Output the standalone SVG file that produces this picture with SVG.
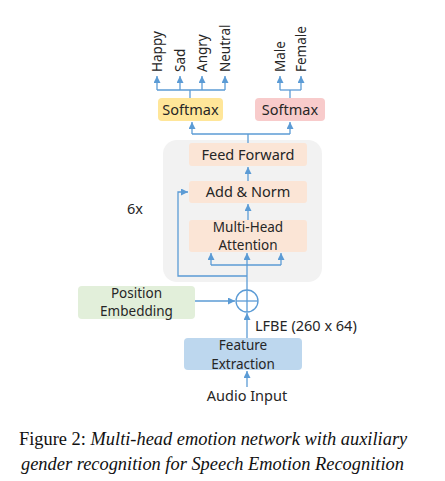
<svg xmlns="http://www.w3.org/2000/svg" width="445" height="481" viewBox="0 0 445 481">
<defs>
<marker id="ah" markerUnits="userSpaceOnUse" markerWidth="7" markerHeight="7" viewBox="0 0 10 10" refX="10" refY="5" orient="auto">
<path d="M0,0 L10,5 L0,10 z" fill="#5b9bd5"/>
</marker>
</defs>
<style>
.t{font-family:"Noto Sans","Open Sans","DejaVu Sans",sans-serif;font-size:14.5px;fill:#262626;text-anchor:middle}
.t2{font-family:"Noto Sans","Open Sans","DejaVu Sans",sans-serif;font-size:13.5px;fill:#262626;text-anchor:middle}
.r{font-family:"Noto Sans","Open Sans","DejaVu Sans",sans-serif;font-size:13.5px;fill:#262626;text-anchor:start}
.ln{fill:none;stroke:#5b9bd5;stroke-width:1.3}
.ar{fill:none;stroke:#5b9bd5;stroke-width:1.3;marker-end:url(#ah)}
.pe{fill:#fbe5d6}
.cap{font-family:"Liberation Serif","Times New Roman",serif;font-size:18.4px;fill:#111}
</style>
<rect width="445" height="481" fill="#ffffff"/>
<g id="encoder-block">
<rect x="163" y="140" width="159" height="142" rx="14" fill="#f2f2f2"/>
<text class="t" x="135" y="214">6x</text>
</g>
<g id="feed-forward">
<rect class="pe" x="189" y="143" width="118" height="23" rx="3"/>
<text class="t" x="248" y="160">Feed Forward</text>
</g>
<g id="add-norm">
<rect class="pe" x="189" y="181" width="118" height="22" rx="3"/>
<text class="t" x="248" y="197">Add &amp; Norm</text>
</g>
<g id="multi-head-attention">
<rect class="pe" x="189" y="220" width="118" height="32" rx="3"/>
<text class="t2" x="248" y="231.5">Multi-Head</text>
<text class="t2" x="248" y="250">Attention</text>
</g>
<g id="softmax-emotion">
<rect x="158" y="98" width="65" height="23" rx="4" fill="#ffe699"/>
<text class="t" x="190.5" y="114.5">Softmax</text>
</g>
<g id="softmax-gender">
<rect x="255" y="98" width="70" height="23" rx="4" fill="#f8cbcb"/>
<text class="t" x="290" y="114.5">Softmax</text>
</g>
<g id="position-embedding">
<rect x="78" y="286" width="117" height="33" rx="4" fill="#e2efda"/>
<text class="t2" x="136.5" y="297.5">Position</text>
<text class="t2" x="136.5" y="316">Embedding</text>
</g>
<g id="add-op">
<circle cx="247" cy="301" r="11" fill="none" stroke="#5b9bd5" stroke-width="1.3"/>
<line class="ln" x1="236" y1="301" x2="258" y2="301"/>
<line class="ln" x1="247" y1="290" x2="247" y2="312"/>
</g>
<g id="feature-extraction">
<rect x="184" y="338" width="118" height="32" rx="4" fill="#bdd7ee"/>
<text class="t2" x="243" y="350">Feature</text>
<text class="t2" x="243" y="368.5">Extraction</text>
</g>
<g id="labels">
<text class="t" x="247" y="401">Audio Input</text>
<text class="t" x="255" y="331" style="text-anchor:start">LFBE (260 x 64)</text>
<text class="r" transform="translate(162,72) rotate(-90)">Happy</text>
<text class="r" transform="translate(185,72) rotate(-90)">Sad</text>
<text class="r" transform="translate(207,72) rotate(-90)">Angry</text>
<text class="r" transform="translate(230,72) rotate(-90)">Neutral</text>
<text class="r" transform="translate(285,72) rotate(-90)">Male</text>
<text class="r" transform="translate(306,72) rotate(-90)">Female</text>
</g>
<g id="connectors">
<line class="ar" x1="247" y1="387" x2="247" y2="371"/>
<line class="ar" x1="247" y1="338" x2="247" y2="313"/>
<line class="ar" x1="195" y1="301" x2="235" y2="301"/>
<line class="ln" x1="247" y1="290" x2="247" y2="265"/>
<line class="ar" x1="247" y1="265" x2="247" y2="253"/>
<polyline class="ln" points="211,265 281,265"/>
<line class="ar" x1="211" y1="265" x2="211" y2="253"/>
<line class="ar" x1="281" y1="265" x2="281" y2="253"/>
<polyline class="ar" points="247,276 178,276 178,192 188,192"/>
<line class="ar" x1="248" y1="220" x2="248" y2="204"/>
<line class="ar" x1="248" y1="181" x2="248" y2="167"/>
<line class="ln" x1="248" y1="143" x2="248" y2="134"/>
<polyline class="ln" points="192,134 290,134"/>
<line class="ar" x1="192" y1="134" x2="192" y2="122"/>
<line class="ar" x1="290" y1="134" x2="290" y2="122"/>
<line class="ln" x1="190" y1="98" x2="190" y2="90"/>
<polyline class="ln" points="157,90 225,90"/>
<line class="ar" x1="157" y1="90" x2="157" y2="76"/>
<line class="ar" x1="180" y1="90" x2="180" y2="76"/>
<line class="ar" x1="202" y1="90" x2="202" y2="76"/>
<line class="ar" x1="225" y1="90" x2="225" y2="76"/>
<line class="ln" x1="290" y1="98" x2="290" y2="90"/>
<polyline class="ln" points="280,90 301,90"/>
<line class="ar" x1="280" y1="90" x2="280" y2="76"/>
<line class="ar" x1="301" y1="90" x2="301" y2="76"/>
</g>
<g id="caption">
<text class="cap" x="19" y="445">Figure 2: <tspan font-style="italic">Multi-head emotion network with auxiliary</tspan></text>
<text class="cap" x="21" y="470" font-style="italic">gender recognition for Speech Emotion Recognition</text>
</g>
</svg>
